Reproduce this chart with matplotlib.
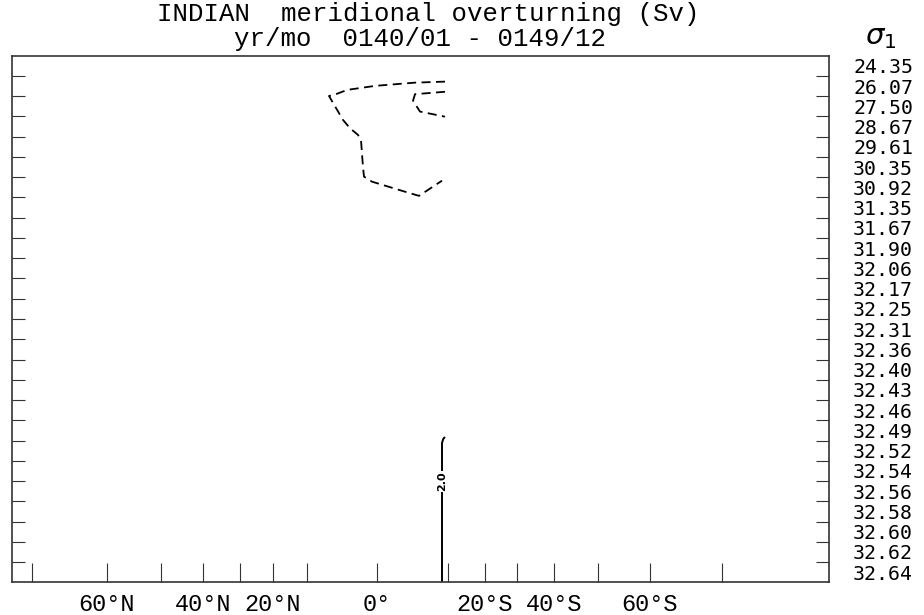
import matplotlib
matplotlib.use('Agg')
import matplotlib.pyplot as plt

# 密度层 sigma_1 (右侧标签, 每层中心一个)
sigma_levels = ['24.35', '26.07', '27.50', '28.67', '29.61', '30.35', '30.92',
                '31.35', '31.67', '31.90', '32.06', '32.17', '32.25', '32.31',
                '32.36', '32.40', '32.43', '32.46', '32.49', '32.52', '32.54',
                '32.56', '32.58', '32.60', '32.62', '32.64']

# x 轴: 网格索引, 纬度刻度
lat_tick_pos = [20, 95, 149, 191, 228, 261, 295, 365, 436, 473, 505, 542, 586, 638, 710]
lat_tick_lab = ['', '60°N', '', '40°N', '', '20°N', '', '0°', '', '20°S', '', '40°S', '', '60°S', '']

# -2.0 Sv 等值线 (虚线), 两段
neg_outer_x = [433, 403, 363, 335, 324, 317, 331, 338, 346, 349, 351, 352, 360, 396, 407, 430]
neg_outer_y = [1.28, 1.33, 1.49, 1.69, 1.90, 1.99, 3.17, 3.58, 3.91, 4.16, 5.51, 5.97, 6.22, 6.76, 6.92, 6.17]
neg_inner_x = [433, 403, 401, 408, 433]
neg_inner_y = [1.78, 1.90, 2.22, 2.76, 3.01]

# 2.0 Sv 等值线 (实线)
pos_x = [430, 430, 431.3, 432.3]
pos_y = [26.0, 19.12, 18.92, 18.86]
pos_label = '2.0'
pos_label_xy = (430, 21.0)

n_layers = len(sigma_levels)

fig = plt.figure(figsize=(9.24, 6.15), dpi=100)
W, H = 924, 615
ax = fig.add_axes([12 / W, (H - 582.3) / H, 817 / W, 526.6 / H])

ax.plot(neg_outer_x, neg_outer_y, color='black', lw=1.3, linestyle=(0, (5, 3)))
ax.plot(neg_inner_x, neg_inner_y, color='black', lw=1.3, linestyle=(0, (5, 3)))
ax.plot(pos_x, pos_y, color='black', lw=1.4)
ax.text(pos_label_xy[0], pos_label_xy[1], pos_label, rotation=90, fontsize=8,
        fontweight='bold', ha='center', va='center',
        bbox=dict(facecolor='white', edgecolor='none', pad=0.5))

ax.set_xlim(0, 817)
ax.set_ylim(n_layers, 0)

for s in ax.spines.values():
    s.set_linewidth(1.2)
    s.set_color('#333333')

# x 刻度
ax.set_xticks(lat_tick_pos, lat_tick_lab)
ax.tick_params(axis='x', direction='in', length=13.7, width=0.8, color='#333333',
               pad=8, top=False)
for t in ax.get_xticklabels():
    t.set_fontfamily('Liberation Mono')
    t.set_fontsize(17)

# y 刻度: 层界面 (主刻度), 层中心标签 (次刻度)
ax.set_yticks(range(1, n_layers))
ax.set_yticks([k + 0.5 for k in range(n_layers)], sigma_levels, minor=True)
ax.tick_params(axis='y', which='major', direction='in', length=9.1, width=0.8,
               color='#333333', left=True, right=True, labelleft=False, labelright=False)
ax.tick_params(axis='y', which='minor', length=0, left=False, right=False,
               labelleft=False, labelright=True, pad=38.9)
for t in ax.get_yticklabels(minor=True):
    t.set_fontfamily('DejaVu Sans Mono')
    t.set_fontsize(14.3)
    t.set_ha('center')

# 标题
fig.text(428 / W, 1 - 21 / H, 'INDIAN  meridional overturning (Sv)', ha='center',
         va='baseline', fontsize=18.5, family='Liberation Mono')
fig.text(420 / W, 1 - 46 / H, 'yr/mo  0140/01 - 0149/12', ha='center',
         va='baseline', fontsize=18.5, family='Liberation Mono')
fig.text(881 / W, 1 - 37 / H, r'$\sigma_1$', ha='center', va='center', fontsize=21)

fig.savefig('out.png', dpi=100)
